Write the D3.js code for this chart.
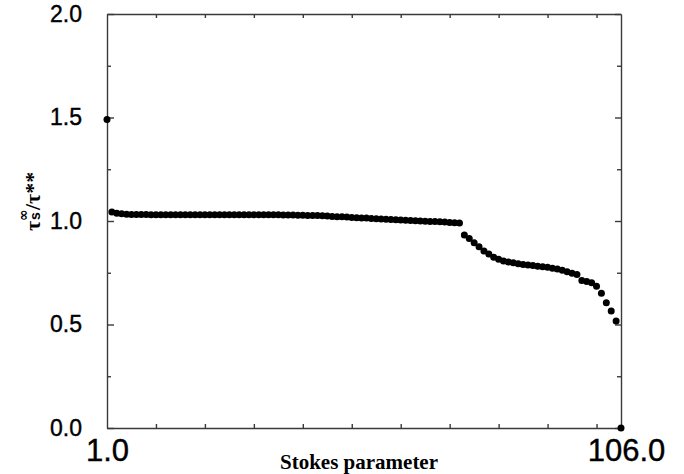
<!DOCTYPE html>
<html>
<head>
<meta charset="utf-8">
<script src="https://cdn.jsdelivr.net/npm/d3@7"></script>
<style>
  html, body { margin: 0; padding: 0; background: #fff; }
  svg { display: block; }
</style>
</head>
<body>
<svg id="chart" width="684" height="474"></svg>
<script>
// ---- data ----
const xDomain = [1, 106];
const yDomain = [0, 2];
const ratioValues = [
  1.490,
  1.043, 1.038, 1.035, 1.033, 1.032, 1.031, 1.031, 1.031, 1.030, 1.030,
  1.030, 1.030, 1.030, 1.030, 1.030, 1.030, 1.030, 1.030, 1.030, 1.030,
  1.030, 1.030, 1.030, 1.030, 1.030, 1.030, 1.030, 1.030, 1.030, 1.030,
  1.030, 1.030, 1.030, 1.030, 1.030, 1.029, 1.029, 1.029, 1.028, 1.028,
  1.027, 1.027, 1.026, 1.025, 1.024, 1.022, 1.021, 1.020, 1.019, 1.017,
  1.016, 1.015, 1.014, 1.012, 1.011, 1.010, 1.009, 1.007, 1.006, 1.005,
  1.004, 1.002, 1.001, 1.000, 0.999, 0.998, 0.997, 0.996, 0.995, 0.993,
  0.992, 0.990,
  0.932, 0.915, 0.895, 0.876, 0.855, 0.840, 0.825, 0.815, 0.807, 0.802,
  0.798, 0.793, 0.790, 0.788, 0.785, 0.782, 0.779, 0.776, 0.772, 0.768,
  0.762, 0.755, 0.748, 0.742, 0.712, 0.708, 0.702, 0.685, 0.651, 0.605,
  0.565, 0.517, 0.000
];
const stokesIndex = ratioValues.map((v, i) => i + 1);
const yTickValues = [0, 0.25, 0.5, 0.75, 1.0, 1.25, 1.5, 1.75, 2.0];
const yMajorTicks = [0, 0.5, 1.0, 1.5, 2.0];
const xTickValues = [1, 11, 21, 31, 41, 51, 61, 71, 81, 91, 101, 106];
const xLabelTicks = [1, 106];
const xTitle = "Stokes parameter";

// ---- layout ----
const L = 107, R = 621, T = 14, B = 428;
const svg = d3.select("#chart");
const x = d3.scaleLinear().domain(xDomain).range([L, R]);
const y = d3.scaleLinear().domain(yDomain).range([B, T]);

const axisColor = "#3a3a3a";
const tickFont = "'Liberation Sans', Arial, sans-serif";
const isMajor = v => yMajorTicks.some(m => Math.abs(m - v) < 1e-9);

function styleAxis(g, size) {
  g.select(".domain").attr("stroke", axisColor).attr("stroke-width", 1.4);
  g.selectAll(".tick line").attr("stroke", axisColor).attr("stroke-width", 1.4);
  g.selectAll(".tick text")
    .attr("fill", "#000")
    .attr("stroke", "#000").attr("stroke-width", 0.4)
    .style("font-family", tickFont)
    .style("font-size", size + "px");
}

// left axis
const gl = svg.append("g").attr("transform", `translate(${L},0)`)
  .call(d3.axisLeft(y).tickValues(yTickValues).tickSize(-7).tickSizeOuter(0).tickPadding(25)
    .tickFormat(d => isMajor(d) ? d3.format(".1f")(d) : ""));
styleAxis(gl, 23);
gl.selectAll(".tick").filter(d => !isMajor(d)).select("line").attr("x2", 4);

// right axis
const gr = svg.append("g").attr("transform", `translate(${R},0)`)
  .call(d3.axisRight(y).tickValues(yTickValues).tickSize(-6).tickSizeOuter(0).tickFormat(""));
styleAxis(gr, 23);
gr.selectAll(".tick").filter(d => !isMajor(d)).select("line").attr("x2", -4);

// bottom axis
const gb = svg.append("g").attr("transform", `translate(0,${B})`)
  .call(d3.axisBottom(x).tickValues(xTickValues).tickSize(-4).tickSizeOuter(0).tickPadding(11)
    .tickFormat(d => xLabelTicks.includes(d) ? d3.format(".1f")(d) : ""));
styleAxis(gb, 31);
gb.selectAll(".tick").filter(d => d === 1 || d === 106).select("line").attr("y2", 0);
gb.selectAll(".tick").filter(d => d === 106).select("text").attr("dx", 5);

// top axis
const gt = svg.append("g").attr("transform", `translate(0,${T})`)
  .call(d3.axisTop(x).tickValues(xTickValues).tickSize(-4).tickSizeOuter(0).tickFormat(""));
styleAxis(gt, 23);
gt.selectAll(".tick").filter(d => d === 1 || d === 106).select("line").attr("y2", 0);

// x title
svg.append("text")
  .attr("x", (L + R) / 2 - 5).attr("y", 469)
  .attr("text-anchor", "middle")
  .style("font-family", "'Liberation Serif', 'Times New Roman', serif")
  .style("font-size", "21px").style("font-weight", "bold")
  .text(xTitle);

// y title (rotated)
const yl = svg.append("g").attr("transform", "translate(40,200) rotate(-90)")
  .style("font-family", "'Liberation Serif', 'Times New Roman', serif")
  .style("font-weight", "bold").attr("fill", "#000");
yl.append("text").attr("x", -31).attr("y", 0).style("font-size", "22px").text("τ");
yl.append("text").attr("x", -21).attr("y", -12).style("font-size", "14px")
  .style("font-family", "'DejaVu Sans', sans-serif").text("∞");
yl.append("text").attr("x", -20).attr("y", 0).style("font-size", "14px")
  .style("font-family", "'Liberation Sans', sans-serif").text("s");
yl.append("text").attr("x", -10).attr("y", 0).style("font-size", "22px").text("/τ**");

// points
svg.append("g").selectAll("circle")
  .data(ratioValues)
  .join("circle")
  .attr("cx", (d, i) => x(stokesIndex[i]))
  .attr("cy", d => y(d))
  .attr("r", 3.5)
  .attr("fill", "#000");
</script>
</body>
</html>
